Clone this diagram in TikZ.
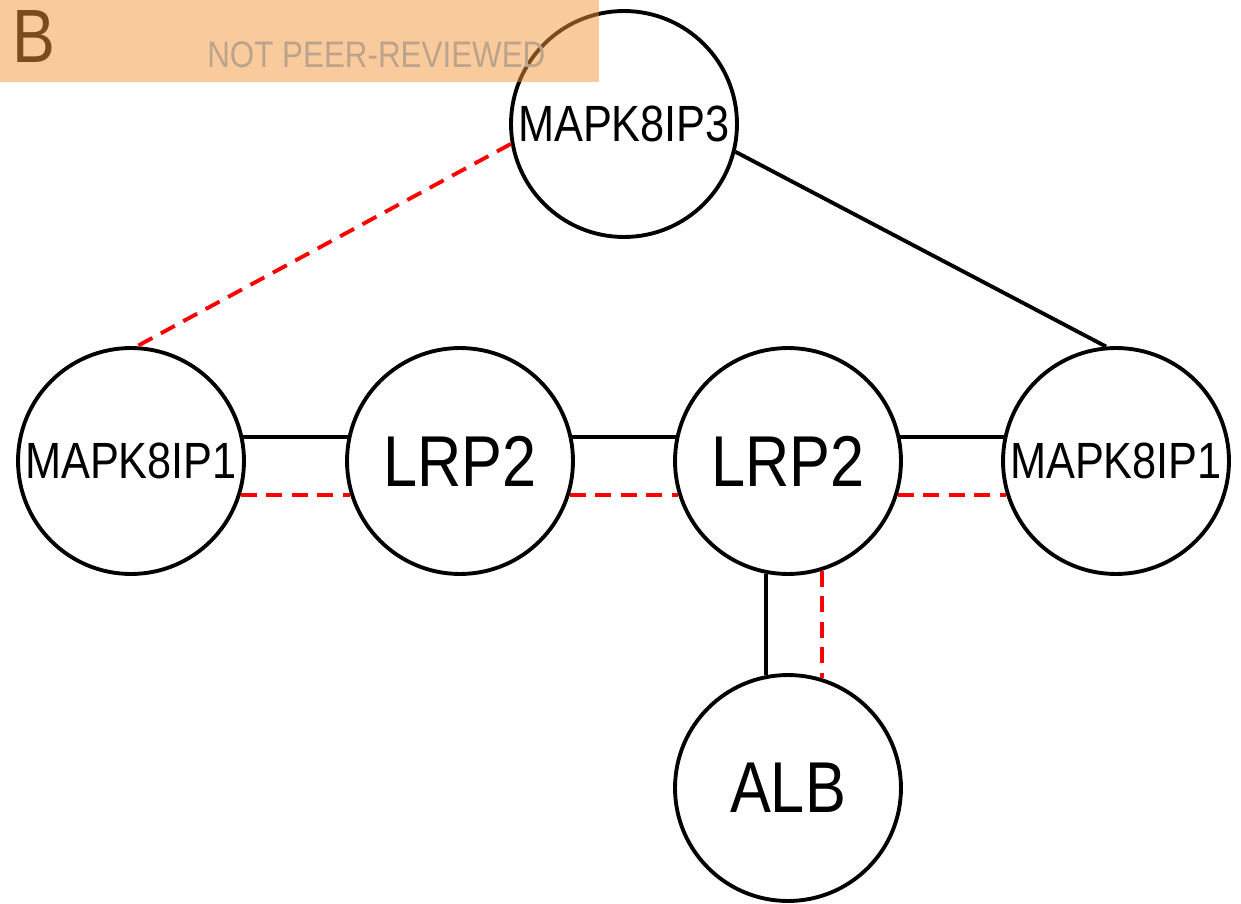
\documentclass[tikz,border=0pt]{standalone}
\usepackage{fontspec}
\usetikzlibrary{positioning}
\newfontfamily\labfont[FakeStretch=0.85]{Liberation Sans}
\definecolor{bannerorange}{RGB}{244,150,57}
\definecolor{stampgray}{RGB}{188,163,140}

\begin{document}
\begin{tikzpicture}[x=0.02cm,y=-0.02cm,
  prot/.style={circle,draw,line width=2.2pt,minimum size=4.52cm,inner sep=0pt,font=\labfont\fontsize{29}{29}\selectfont},
  bigprot/.style={prot,font=\labfont\fontsize{41}{41}\selectfont},
  bind/.style={line width=2.2pt},
  pred/.style={line width=2.2pt,red,dash pattern=on 9pt off 5.5pt}]
\useasboundingbox (0,0) rectangle (1241,903);
\node[prot] (ip3) at (624,124) {MAPK8IP3};
\node[prot] (ip1L) at (131,461) {MAPK8IP1};
\node[bigprot] (lrpL) at (460,461) {LRP2};
\node[bigprot] (lrpR) at (788,461) {LRP2};
\node[prot] (ip1R) at (1116,461) {MAPK8IP1};
\node[bigprot] (alb) at (788,788) {ALB};
% solid = experimental, dashed = predicted
\draw[bind] (ip1L.12) -- (lrpL.168);
\draw[pred] (ip1L.-17) -- (lrpL.-163);
\draw[bind] (lrpL.12) -- (lrpR.168);
\draw[pred] (lrpL.-17) -- (lrpR.-163);
\draw[bind] (lrpR.12) -- (ip1R.168);
\draw[pred] (lrpR.-17) -- (ip1R.-163);
\draw[pred] (ip3.190) -- (ip1L.87);
\draw[bind] (ip3.-14) -- (ip1R.95);
\draw[bind] (lrpR.-101.5) -- (alb.101.5);
\draw[pred] (lrpR.-73) -- (alb.73);
% panel banner
\node[anchor=base west,inner sep=0pt,font=\labfont\fontsize{43}{43}\selectfont] (panel) at (12,62) {B};
\fill[bannerorange,opacity=0.5] (0,0) rectangle (599,82);
\node[anchor=base west,inner sep=0pt,text=stampgray,font=\labfont\fontsize{21}{21}\selectfont] (stamp) at (207,67) {NOT PEER-REVIEWED};
\end{tikzpicture}
\end{document}
